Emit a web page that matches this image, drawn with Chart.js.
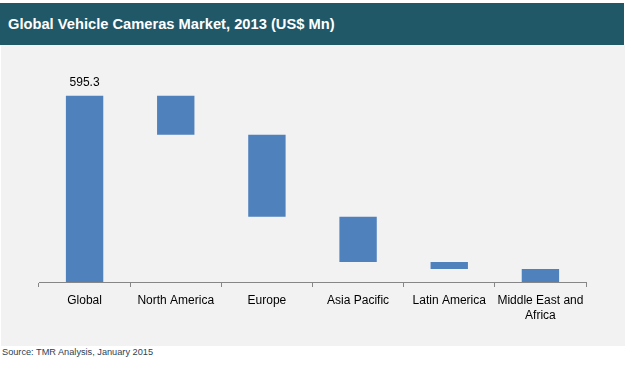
<!DOCTYPE html>
<html>
<head>
<meta charset="utf-8">
<script src="https://cdn.jsdelivr.net/npm/chart.js@4.4.1/dist/chart.umd.min.js"></script>
<style>
  body { margin: 0; background: #fff; width: 626px; height: 366px; position: relative; overflow: hidden; font-family: "Liberation Sans", Arial, sans-serif; }
  #title { position: absolute; left: 0; top: 3px; width: 624px; height: 42px; background: #215868; color: #fff; font-weight: bold; font-size: 14.7px; line-height: 42px; padding-left: 8px; box-sizing: border-box; }
  #panel { position: absolute; left: 1px; top: 45px; width: 624px; height: 301px; background: #f2f2f2; }
  #wrap { position: absolute; left: 0; top: 45px; width: 626px; height: 300px; }
  #source { position: absolute; left: 2px; top: 347px; font-size: 9.2px; color: #2b3f55; }
</style>
</head>
<body>
<div id="title">Global Vehicle Cameras Market, 2013 (US$ Mn)</div>
<div id="panel"></div>
<div id="wrap"><canvas id="waterfall"></canvas></div>
<div id="source">Source: TMR Analysis, January 2015</div>
<script>
// Dữ liệu
const categories = ['Global', 'North America', 'Europe', 'Asia Pacific', 'Latin America', ['Middle East and', 'Africa']];
const totalValue = 595.3;
const regionValues = [125.0, 261.5, 145.0, 22.3, 41.5];
const yMax = 700;

// Dựng các thanh nổi kiểu waterfall
const floatingBars = [[0, totalValue]];
let level = totalValue;
regionValues.forEach(v => {
  floatingBars.push([level - v, level]);
  level -= v;
});

// Nhãn giá trị trên cột Global
const totalLabel = {
  id: 'totalLabel',
  afterDatasetsDraw(chart) {
    const bar = chart.getDatasetMeta(0).data[0];
    const ctx = chart.ctx;
    ctx.save();
    ctx.font = '12px "Liberation Sans", Arial, sans-serif';
    ctx.fillStyle = '#000';
    ctx.textAlign = 'center';
    ctx.textBaseline = 'bottom';
    ctx.fillText(totalValue.toFixed(1), bar.x, bar.y - 7);
    ctx.restore();
  }
};

new Chart(document.getElementById('waterfall'), {
  type: 'bar',
  data: {
    labels: categories,
    datasets: [{
      data: floatingBars,
      backgroundColor: '#4f81bd',
      borderWidth: 0,
      categoryPercentage: 1,
      barPercentage: 0.41
    }]
  },
  options: {
    responsive: true,
    maintainAspectRatio: false,
    animation: false,
    layout: { padding: { left: 39, right: 40, top: 18, bottom: 0 } },
    plugins: { legend: { display: false }, tooltip: { enabled: false } },
    scales: {
      x: {
        afterFit: s => { s.height = 63; },
        border: { color: '#868686', width: 1 },
        grid: { offset: true, drawOnChartArea: false, drawTicks: true, tickLength: 5, color: '#868686' },
        ticks: { color: '#000', padding: 6, maxRotation: 0, autoSkip: false, font: { family: '"Liberation Sans", Arial, sans-serif', size: 12, lineHeight: 1.25 } }
      },
      y: { display: false, min: 0, max: yMax }
    }
  },
  plugins: [totalLabel]
});
</script>
</body>
</html>
